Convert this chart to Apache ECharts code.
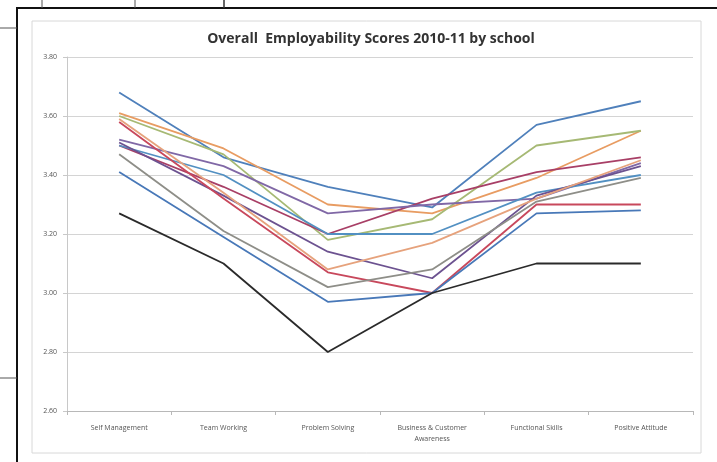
<!DOCTYPE html>
<html>
<head>
<meta charset="utf-8">
<script src="https://cdn.jsdelivr.net/npm/echarts@6/dist/echarts.min.js"></script>
<style>
html,body{margin:0;padding:0;background:#fff;}
#chart{width:717px;height:462px;}
</style>
</head>
<body>
<div id="chart"></div>
<script>
const categories = ['Self Management', 'Team Working', 'Problem Solving', 'Business & Customer\nAwareness', 'Functional Skills', 'Positive Attitude'];
const yTicks = { min: 2.6, max: 3.8, interval: 0.2 };

const schoolA = [3.68, 3.46, 3.36, 3.29, 3.57, 3.65];
const schoolB = [3.61, 3.49, 3.30, 3.27, 3.39, 3.55];
const schoolC = [3.60, 3.47, 3.18, 3.25, 3.50, 3.55];
const schoolD = [3.50, 3.36, 3.20, 3.32, 3.41, 3.46];
const schoolE = [3.52, 3.43, 3.27, 3.30, 3.32, 3.44];
const schoolF = [3.50, 3.40, 3.20, 3.20, 3.34, 3.40];
const schoolG = [3.51, 3.33, 3.14, 3.05, 3.33, 3.43];
const schoolH = [3.59, 3.34, 3.08, 3.17, 3.32, 3.45];
const schoolI = [3.58, 3.32, 3.07, 3.00, 3.30, 3.30];
const schoolJ = [3.47, 3.21, 3.02, 3.08, 3.31, 3.39];
const schoolK = [3.41, 3.19, 2.97, 3.00, 3.27, 3.28];
const schoolL = [3.27, 3.10, 2.80, 3.00, 3.10, 3.10];

const seriesData = [schoolA, schoolB, schoolC, schoolD, schoolE, schoolF, schoolG, schoolH, schoolI, schoolJ, schoolK, schoolL];
const colors = ['#4f80bb', '#e89c62', '#a6b974', '#a83f66', '#8068a6', '#5290c2', '#6c5290', '#e6a27c', '#c8485c', '#8e8e88', '#4878b8', '#2a2a2a'];

const chart = echarts.init(document.getElementById('chart'));
chart.setOption({
  backgroundColor: '#ffffff',
  animation: false,
  title: {
    text: 'Overall  Employability Scores 2010-11 by school',
    left: 366, top: 27, textAlign: 'center',
    textStyle: { fontFamily: 'Open Sans', fontWeight: 'bold', fontSize: 14, color: '#333' }
  },
  grid: { left: 67, right: 24, top: 57, bottom: 51 },
  xAxis: {
    type: 'category',
    data: categories,
    boundaryGap: true,
    axisLine: { lineStyle: { color: '#b8b8b8', width: 1 } },
    axisTick: { show: true, length: 4, lineStyle: { color: '#b8b8b8' } },
    axisLabel: { fontFamily: 'Open Sans', fontSize: 7, color: '#555', margin: 11, lineHeight: 11, interval: 0 }
  },
  yAxis: {
    type: 'value',
    min: yTicks.min, max: yTicks.max, interval: yTicks.interval,
    axisLine: { show: true, lineStyle: { color: '#c8c8c8' } },
    axisTick: { show: true, length: 4, lineStyle: { color: '#c8c8c8' } },
    splitLine: { lineStyle: { color: '#d4d4d4', width: 1 } },
    axisLabel: { fontFamily: 'Open Sans', fontSize: 7, color: '#555', margin: 10, formatter: v => v.toFixed(2) }
  },
  series: seriesData.map((d, i) => ({
    type: 'line',
    data: d,
    symbol: 'none',
    lineStyle: { color: colors[i], width: 1.8 },
    itemStyle: { color: colors[i] }
  })),
  graphic: [
    { type: 'rect', shape: { x: 32, y: 21, width: 669, height: 432 }, style: { fill: 'none', stroke: '#d8d8d8', lineWidth: 1 }, z: -1 },
    { type: 'polyline', shape: { points: [[17, 462], [17, 8], [717, 8]] }, style: { fill: 'none', stroke: '#111', lineWidth: 2 } },
    { type: 'line', shape: { x1: 42, y1: 0, x2: 42, y2: 8 }, style: { stroke: '#555', lineWidth: 1 } },
    { type: 'line', shape: { x1: 135, y1: 0, x2: 135, y2: 8 }, style: { stroke: '#555', lineWidth: 1 } },
    { type: 'line', shape: { x1: 224, y1: 0, x2: 224, y2: 8 }, style: { stroke: '#333', lineWidth: 1.5 } },
    { type: 'line', shape: { x1: 0, y1: 28, x2: 17, y2: 28 }, style: { stroke: '#555', lineWidth: 1 } },
    { type: 'line', shape: { x1: 0, y1: 378, x2: 17, y2: 378 }, style: { stroke: '#555', lineWidth: 1 } }
  ]
});
</script>
</body>
</html>
